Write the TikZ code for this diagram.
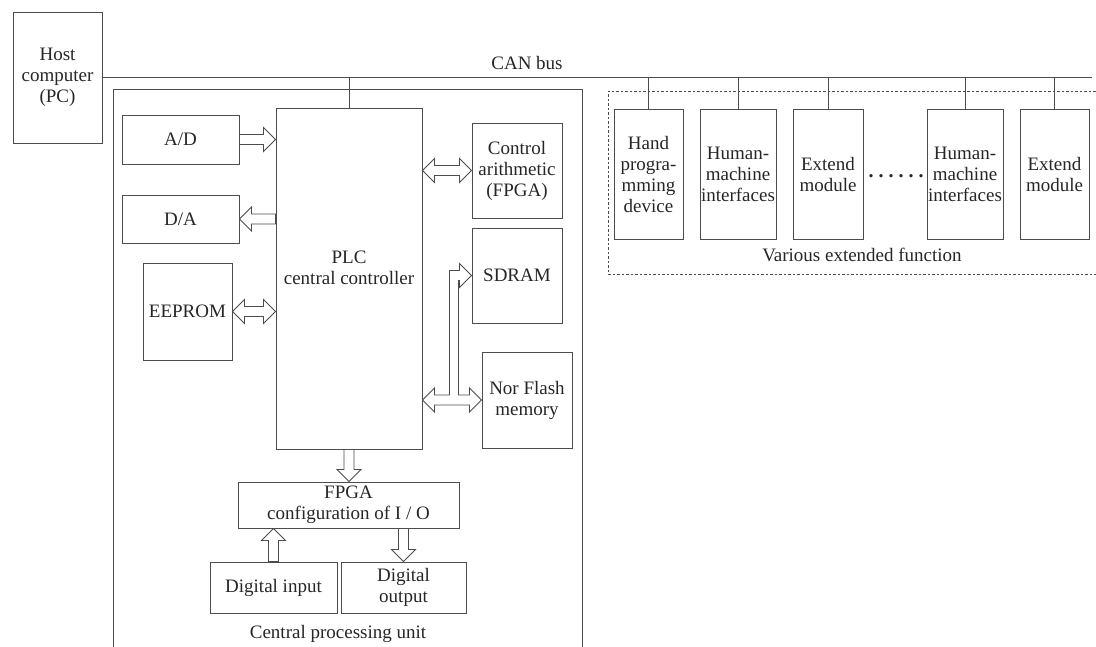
\documentclass[tikz,border=0pt]{standalone}
\usepackage{fontspec}
\setmainfont{Liberation Serif}
\usetikzlibrary{calc}
\definecolor{linec}{gray}{0.30}
\definecolor{textc}{gray}{0.15}
\tikzset{
  every node/.style={font=\fontsize{19}{21}\selectfont, text=textc},
  box/.style={draw=linec, line width=1pt, inner sep=0pt, align=center},
  txt/.style={inner sep=0pt, align=center},
  wire/.style={draw=linec, line width=1pt},
  hollowst/.style={draw=linec, line width=0.9pt, fill=white, line join=miter},
  dashframe/.style={draw=linec, line width=0.8pt, dash pattern=on 2.5pt off 2pt},
}
\newcommand\hollowarrow[3]{%
  \path let \p1=(#2), \p2=(#3), \n1={atan2(\y2-\y1,\x2-\x1)}, \n2={veclen(\x2-\x1,\y2-\y1)} in
    \pgfextra{\xdef\haX{\x1}\xdef\haY{\y1}\xdef\haA{\n1}\xdef\haL{\n2}};
  \ifnum#1=1
    \draw[hollowst, shift={(\haX,\haY)}, rotate=\haA]
      (0pt,5pt) -- ({\haL-12pt},5pt) -- ({\haL-12pt},12pt) -- ({\haL},0pt)
      -- ({\haL-12pt},-12pt) -- ({\haL-12pt},-5pt) -- (0pt,-5pt) -- cycle;
  \else
    \draw[hollowst, shift={(\haX,\haY)}, rotate=\haA]
      (0pt,0pt) -- (12pt,12pt) -- (12pt,5pt) -- ({\haL-12pt},5pt) -- ({\haL-12pt},12pt)
      -- ({\haL},0pt) -- ({\haL-12pt},-12pt) -- ({\haL-12pt},-5pt)
      -- (12pt,-5pt) -- (12pt,-12pt) -- cycle;
  \fi
}
\begin{document}
\begin{tikzpicture}[x=1pt,y=-1pt]
\useasboundingbox (0,0) rectangle (1096,646);

% host and bus
\node[box, minimum width=89pt, minimum height=131pt] (host) at (57.5,77.5) {Host\\computer\\(PC)};
\coordinate (busend) at (1092,77.5);
\draw[wire] (host.east) -- (busend);
\node[txt] (canlbl) at (527,63) {CAN bus};

% CPU frame
\coordinate (cpuBL) at (113,650);
\coordinate (cpuTL) at (113,89);
\coordinate (cpuTR) at (582,89);
\coordinate (cpuBR) at (582,650);
\draw[wire] (cpuBL) -- (cpuTL) -- (cpuTR) -- (cpuBR);
\node[txt] (cpulbl) at (338,634) {Central processing unit};

% CPU blocks
\node[box, minimum width=146pt, minimum height=341pt] (plc) at (349,278.5) {};
\node[txt] (plctxt) at (349,268) {PLC\\central controller};
\node[box, minimum width=117pt, minimum height=49pt] (ad) at (180.5,139.5) {A/D};
\node[box, minimum width=117pt, minimum height=48pt] (da) at (180.5,219) {D/A};
\node[box, minimum width=89pt, minimum height=97pt] (ee) at (187.5,311.5) {EEPROM};
\node[box, minimum width=90pt, minimum height=95pt] (ctrl) at (517,170.5) {Control\\arithmetic\\(FPGA)};
\node[box, minimum width=90pt, minimum height=95pt] (sdram) at (517,275.5) {SDRAM};
\node[box, minimum width=90pt, minimum height=96pt] (nor) at (527,400) {Nor Flash\\memory};
\node[box, minimum width=221pt, minimum height=46pt] (fpga) at (348.5,505) {FPGA\\configuration of I / O};
\node[box, minimum width=127pt, minimum height=51pt] (din) at (273.5,587.5) {Digital input};
\node[box, minimum width=125pt, minimum height=51pt] (dout) at (403.5,587.5) {Digital\\output};

\draw[wire] (plc.north |- busend) -- (plc.north);

% CPU arrows
\hollowarrow{1}{ad.east}{ad.east -| plc.west}
\hollowarrow{1}{da.east -| plc.west}{da.east}
\hollowarrow{2}{ee.east}{ee.east -| plc.west}
\hollowarrow{2}{ctrl.west -| plc.east}{ctrl.west}
\hollowarrow{1}{plc.south}{plc.south |- fpga.north}
\hollowarrow{1}{din.north}{din.north |- fpga.south}
\hollowarrow{1}{dout.north |- fpga.south}{dout.north}
\draw[hollowst] let \p1=(plc.east |- nor.west), \p2=(nor.west), \p3=(sdram.west) in
  (\x1,\y1) -- (\x1+12pt,\y1+12pt) -- (\x1+12pt,\y1+5pt) -- (\x1+27pt,\y1+5pt)
  -- (\x1+27pt,\y3+5pt) -- (\x3-12pt,\y3+5pt) -- (\x3-12pt,\y3+12pt) -- (\x3,\y3)
  -- (\x3-12pt,\y3-12pt) -- (\x3-12pt,\y3-5pt) -- (\x1+36pt,\y3-5pt) -- (\x1+36pt,\y1+5pt)
  -- (\x2-12pt,\y1+5pt) -- (\x2-12pt,\y1+12pt) -- (\x2,\y1) -- (\x2-12pt,\y1-12pt)
  -- (\x2-12pt,\y1-5pt) -- (\x1+12pt,\y1-5pt) -- (\x1+12pt,\y1-12pt) -- cycle;

% extended functions
\coordinate (dfTR) at (1100,91);
\coordinate (dfTL) at (608,91);
\coordinate (dfBL) at (608,274);
\coordinate (dfBR) at (1100,274);
\draw[dashframe] (dfTR) -- (dfTL) -- (dfBL) -- (dfBR);
\node[box, minimum width=69pt, minimum height=130pt] (hand) at (648.5,174) {Hand\\progra-\\mming\\device};
\node[box, minimum width=76pt, minimum height=130pt] (hmia) at (738,174) {Human-\\machine\\interfaces};
\node[box, minimum width=70pt, minimum height=130pt] (exta) at (828,174) {Extend\\module};
\node[box, minimum width=76pt, minimum height=130pt] (hmib) at (965,174) {Human-\\machine\\interfaces};
\node[box, minimum width=69pt, minimum height=130pt] (extb) at (1054.5,174) {Extend\\module};
\node[inner sep=0pt, anchor=base, font=\bfseries\fontsize{20}{20}\selectfont] (dots) at (896,177) {.\kern5pt.\kern5pt.\kern5pt.\kern5pt.\kern5pt.};
\node[txt] (extlbl) at (862,255) {Various extended function};
\foreach \n in {hand,hmia,exta,hmib,extb}
  \draw[wire] (\n.north |- busend) -- (\n.north);
\end{tikzpicture}
\end{document}
